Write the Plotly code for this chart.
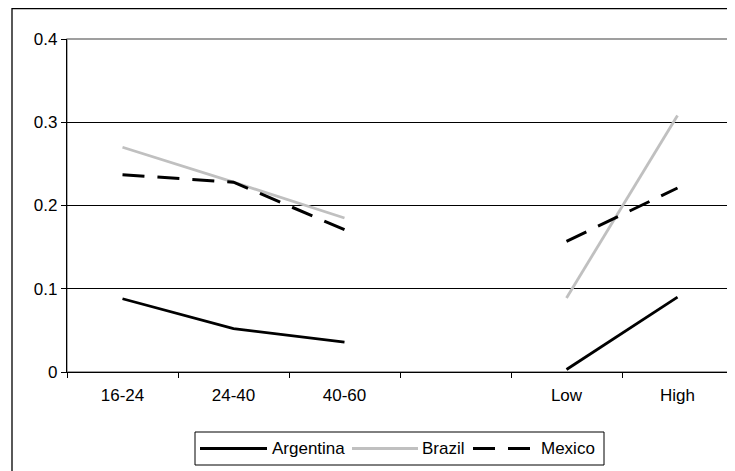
import plotly.graph_objects as go

categories = ["16-24", "24-40", "40-60", " ", "Low", "High"]
argentina = [0.088, 0.052, 0.036, None, 0.003, 0.090]
brazil = [0.270, 0.228, 0.185, None, 0.089, 0.308]
mexico = [0.237, 0.228, 0.171, None, 0.157, 0.221]
series_names = ["Argentina", "Brazil", "Mexico"]
y_ticks = [0, 0.1, 0.2, 0.3, 0.4]
y_labels = ["0", "0.1", "0.2", "0.3", "0.4"]

FONT = "Liberation Sans, Arial, sans-serif"
BLACK = "#000000"
GRAY = "#c0c0c0"
MEX_DASH = "22px,13px"

# The page body adds an 8px offset; the figure is sized so the plot lands where the reference has it.
OFF = 8
W, H = 727, 463
ml, mr, mt, mb = 59, 2, 31, 99
pw = W - ml - mr
ph = H - mt - mb


def px(xp):
    """page x pixel -> paper x"""
    return (xp - OFF - ml) / pw


def py(yp):
    """page y pixel -> paper y"""
    return (H - mb - (yp - OFF)) / ph


fig = go.Figure()
fig.add_trace(go.Scatter(x=categories, y=argentina, name=series_names[0], mode="lines",
                         line=dict(color=BLACK, width=2.8), connectgaps=False))
fig.add_trace(go.Scatter(x=categories, y=brazil, name=series_names[1], mode="lines",
                         line=dict(color=GRAY, width=2.8), connectgaps=False))
fig.add_trace(go.Scatter(x=categories, y=mexico, name=series_names[2], mode="lines",
                         line=dict(color=BLACK, width=3, dash=MEX_DASH), connectgaps=False))

shapes = []
# outer chart frame (runs past the right/bottom edges as in the reference)
shapes.append(dict(type="rect", xref="paper", yref="paper",
                   x0=px(12), x1=px(760), y0=py(500), y1=py(8.6),
                   line=dict(color=BLACK, width=1.3), layer="below"))
# plot area border (gray)
shapes.append(dict(type="rect", xref="paper", yref="paper", x0=0, x1=1, y0=0, y1=1,
                   line=dict(color="#808080", width=1.3), layer="below"))

# legend box
shapes.append(dict(type="rect", xref="paper", yref="paper",
                   x0=px(195), x1=px(604), y0=py(465), y1=py(432),
                   line=dict(color=BLACK, width=1), fillcolor="white", layer="above"))
leg_y = py(448.5)
leg_items = [
    (200, 267, 272, BLACK, 2.8, "solid"),
    (352, 418, 422, GRAY, 2.8, "solid"),
    (473, 531, 541, BLACK, 3, MEX_DASH),
]
annotations = []
for name, (lx0, lx1, tx, col, lw, dash) in zip(series_names, leg_items):
    shapes.append(dict(type="line", xref="paper", yref="paper",
                       x0=px(lx0), x1=px(lx1), y0=leg_y, y1=leg_y,
                       line=dict(color=col, width=lw, dash=dash), layer="above"))
    annotations.append(dict(xref="paper", yref="paper", x=px(tx - 2), y=leg_y,
                            xanchor="left", yanchor="middle", showarrow=False,
                            text=name, font=dict(family=FONT, size=17, color=BLACK)))

fig.update_layout(
    width=W, height=H,
    margin=dict(l=ml, r=mr, t=mt, b=mb),
    paper_bgcolor="white", plot_bgcolor="white",
    font=dict(family=FONT, size=17, color=BLACK),
    showlegend=False,
    shapes=shapes,
    annotations=annotations,
    xaxis=dict(type="category", categoryorder="array", categoryarray=categories,
               range=[-0.5, 5.5], tickson="boundaries", ticks="outside", ticklen=5,
               ticklabelstandoff=7,
               tickcolor=BLACK, showline=True, linecolor=BLACK, linewidth=1.3,
               showgrid=False, zeroline=False, fixedrange=True,
               tickfont=dict(family=FONT, size=17, color=BLACK)),
    yaxis=dict(range=[0, 0.4], tickvals=y_ticks, ticktext=y_labels, ticks="outside",
               ticklen=5, tickcolor=BLACK, showline=True, linecolor=BLACK,
               linewidth=1.3, showgrid=True, gridcolor=BLACK, gridwidth=1,
               zeroline=False, fixedrange=True,
               tickfont=dict(family=FONT, size=17, color=BLACK)),
)

fig.write_html("out.html")
